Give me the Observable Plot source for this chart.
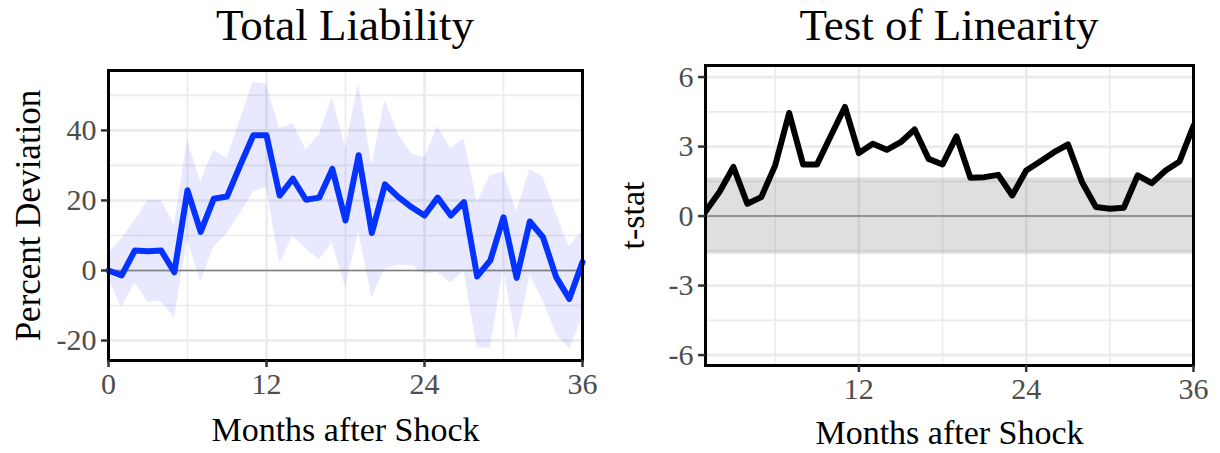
<!DOCTYPE html>
<html>
<head>
<meta charset="utf-8">
<script src="https://cdn.jsdelivr.net/npm/d3@7"></script>
<script src="https://cdn.jsdelivr.net/npm/@observablehq/plot@0.6"></script>
<style>
  html, body { margin: 0; padding: 0; background: #fff; }
  body { width: 1220px; height: 453px; position: relative; overflow: hidden; font-family: "Liberation Serif", "Times New Roman", serif; }
  .title { position: absolute; top: 0; font-size: 45px; color: #000; white-space: nowrap; text-align: center; line-height: 1.15; }
  .panel { position: absolute; top: 60px; }
</style>
</head>
<body>
<div class="title" id="t1" style="left:108px;width:474px;top:0px;">Total Liability</div>
<div class="title" id="t2" style="left:705px;width:488px;top:0px;">Test of Linearity</div>
<div class="panel" id="p1" style="left:0px;"></div>
<div class="panel" id="p2" style="left:610px;"></div>
<script>
// ---- Data ----
const months = [0,1,2,3,4,5,6,7,8,9,10,11,12,13,14,15,16,17,18,19,20,21,22,23,24,25,26,27,28,29,30,31,32,33,34,35,36];
const liability = [0,-1.4,5.7,5.5,5.7,-0.5,22.9,11,20.5,21.1,30,38.6,38.6,21.4,26.2,20.2,20.8,29,14.3,32.9,10.7,24.6,21,18.1,15.7,20.8,15.7,19.5,-1.7,2.9,15.2,-2.1,14,9.5,-1.9,-8.1,2.4];
const liabilityUpper = [5,9,14.3,20,20,12.9,37.1,25.2,34.3,31.9,42.9,53.8,53.1,40.5,41.9,34.5,38.6,49.3,35,53.5,30,48.6,39,33.3,32.2,41.1,34.8,37.6,19.5,27.1,28.1,16.7,28.8,26.7,16.2,6.7,11.4];
const liabilityLower = [-2.5,-10.5,-3.6,-9,-8.8,-13.5,8.6,-3.3,6.7,10.5,16.2,22.4,23.8,1.9,9.7,6.2,3,7.8,-4.8,11,-7.8,0.5,1.4,1.4,-1,-0.5,-3.6,0,-22.1,-22.1,0.5,-20,-1.4,-8.6,-18.1,-22.4,-13.3];

const tMonths = [1,2,3,4,5,6,7,8,9,10,11,12,13,14,15,16,17,18,19,20,21,22,23,24,25,26,27,28,29,30,31,32,33,34,35,36];
const tStat = [0.2,1.04,2.12,0.53,0.82,2.19,4.45,2.23,2.23,3.48,4.71,2.72,3.12,2.86,3.19,3.74,2.47,2.23,3.44,1.65,1.68,1.78,0.89,1.97,2.36,2.76,3.09,1.47,0.39,0.32,0.36,1.76,1.42,1.97,2.36,3.9];
const critical = 1.645;

// ticks and grid values
const xTicksLeft = [0, 12, 24, 36];
const xMinorLeft = [6, 18, 30];
const yTicksLeft = [-20, 0, 20, 40];
const yMinorLeft = [-10, 10, 30, 50];
const xTicksRight = [12, 24, 36];
const xMinorRight = [6, 18, 30];
const yTicksRight = [-6, -3, 0, 3, 6];
const yMinorRight = [-4.5, -1.5, 1.5, 4.5];

const FONT = '"Liberation Serif", "Times New Roman", serif';
const GRID = "#ebebeb";
const fmt = d => String(d); // plain hyphen-minus, as in the reference

const leftData = months.map((m, i) => ({m, v: liability[i], hi: liabilityUpper[i], lo: liabilityLower[i]}));
const rightData = tMonths.map((m, i) => ({m, v: tStat[i]}));

const common = {
  width: 610,
  height: 393,
  style: {fontFamily: FONT, background: "white", overflow: "visible"}
};

const left = Plot.plot({
  ...common,
  marginTop: 10, marginBottom: 93, marginLeft: 108, marginRight: 28,
  x: {domain: [0, 36]},
  y: {domain: [-25.7, 57.1]},
  marks: [
    Plot.ruleX(xMinorLeft, {stroke: GRID, strokeWidth: 1.6}),
    Plot.ruleY(yMinorLeft, {stroke: GRID, strokeWidth: 1.6}),
    Plot.ruleX(xTicksLeft, {stroke: GRID, strokeWidth: 2.6}),
    Plot.ruleY(yTicksLeft, {stroke: GRID, strokeWidth: 2.6}),
    Plot.areaY(leftData, {x: "m", y1: "lo", y2: "hi", fill: "#0000ff", fillOpacity: 0.09}),
    Plot.ruleY([0], {stroke: "#7f7f7f", strokeWidth: 1.5}),
    Plot.line(leftData, {x: "m", y: "v", stroke: "#0433ff", strokeWidth: 6, strokeLinejoin: "round"}),
    Plot.frame({stroke: "black", strokeWidth: 3}),
    Plot.axisX({ticks: xTicksLeft, tickSize: 7, tickPadding: 5, fontSize: 30, stroke: "#333", strokeWidth: 2.5, fill: "#4d4d4d", label: null, tickFormat: fmt}),
    Plot.axisY({ticks: yTicksLeft, tickSize: 7, tickPadding: 5, fontSize: 30, stroke: "#333", strokeWidth: 2.5, fill: "#4d4d4d", label: null, tickFormat: fmt}),
    Plot.text(["Months after Shock"], {frameAnchor: "bottom", dy: 70, fontSize: 34, fill: "black", lineAnchor: "middle"}),
    Plot.text(["Percent Deviation"], {frameAnchor: "left", dx: -80, rotate: -90, textAnchor: "middle", lineAnchor: "middle", fontSize: 35, fill: "black"})
  ]
});

const right = Plot.plot({
  ...common,
  marginTop: 5, marginBottom: 88, marginLeft: 95, marginRight: 27,
  x: {domain: [1, 36]},
  y: {domain: [-6.45, 6.5]},
  marks: [
    Plot.ruleX(xMinorRight, {stroke: GRID, strokeWidth: 1.6}),
    Plot.ruleY(yMinorRight, {stroke: GRID, strokeWidth: 1.6}),
    Plot.ruleX(xTicksRight, {stroke: GRID, strokeWidth: 2.6}),
    Plot.ruleY(yTicksRight, {stroke: GRID, strokeWidth: 2.6}),
    Plot.rectY([critical], {x1: 1, x2: 36, y1: d => -d, y2: d => d, fill: "#808080", fillOpacity: 0.25}),
    Plot.ruleY([0], {stroke: "#7f7f7f", strokeWidth: 1.5}),
    Plot.line(rightData, {x: "m", y: "v", stroke: "black", strokeWidth: 6, strokeLinejoin: "round", clip: true}),
    Plot.frame({stroke: "black", strokeWidth: 3}),
    Plot.axisX({ticks: xTicksRight, tickSize: 7, tickPadding: 5, fontSize: 30, stroke: "#333", strokeWidth: 2.5, fill: "#4d4d4d", label: null, tickFormat: fmt}),
    Plot.axisY({ticks: yTicksRight, tickSize: 7, tickPadding: 5, fontSize: 30, stroke: "#333", strokeWidth: 2.5, fill: "#4d4d4d", label: null, tickFormat: fmt}),
    Plot.text(["Months after Shock"], {frameAnchor: "bottom", dy: 68, fontSize: 34, fill: "black", lineAnchor: "middle"}),
    Plot.text(["t-stat"], {frameAnchor: "left", dx: -72, rotate: -90, textAnchor: "middle", lineAnchor: "middle", fontSize: 34, fill: "black"})
  ]
});

document.getElementById("p1").appendChild(left);
document.getElementById("p2").appendChild(right);
</script>
</body>
</html>
